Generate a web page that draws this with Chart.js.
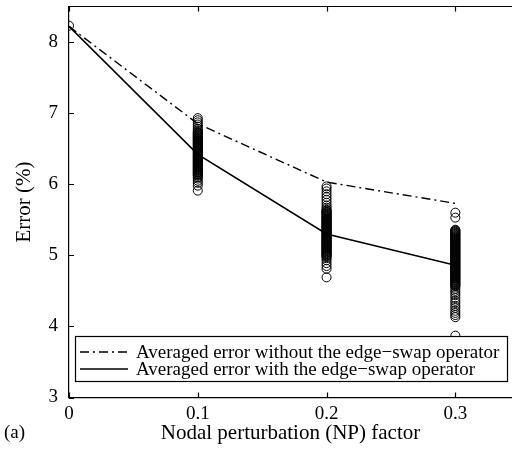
<!DOCTYPE html>
<html>
<head>
<meta charset="utf-8">
<script src="https://cdn.jsdelivr.net/npm/chart.js@4"></script>
<style>
  html, body { margin:0; padding:0; background:#fff; }
  #c { display:block; }
</style>
</head>
<body>
<canvas id="c" width="512" height="459"></canvas>
<script>
'use strict';
// NP factor categories and tick labels
const npFactors = [0, 0.1, 0.2, 0.3];
const xTicks = [0, 0.1, 0.2, 0.3];
const yTicks = [3, 4, 5, 6, 7, 8];

// averaged error curves (%)
const avgWithout = [8.22, 6.85, 6.03, 5.73];
const avgWith    = [8.22, 6.42, 5.30, 4.86];

// individual run errors (%) for each NP factor
const runs0  = [8.23];
const runs01 = [6.93, 6.90, 6.87, 6.84, 6.81, 6.78, 6.76,
                6.74, 6.73, 6.72, 6.71, 6.70, 6.69, 6.68, 6.67, 6.66, 6.65, 6.64, 6.63, 6.62, 6.61, 6.60,
                6.59, 6.58, 6.57, 6.56, 6.55, 6.54, 6.53, 6.52, 6.51, 6.50, 6.49, 6.48, 6.47, 6.46, 6.45,
                6.44, 6.43, 6.42, 6.41, 6.40, 6.39, 6.38, 6.37, 6.36, 6.35, 6.34, 6.33, 6.32, 6.31, 6.30,
                6.29, 6.28, 6.27, 6.26, 6.25, 6.24, 6.23, 6.22, 6.21, 6.20, 6.19, 6.18, 6.17, 6.16, 6.15,
                6.14, 6.13, 6.12, 6.10, 6.08, 6.05, 6.02, 5.98, 5.91];
const runs02 = [5.97, 5.94, 5.90, 5.86, 5.82, 5.78, 5.74, 5.70, 5.67,
                5.64, 5.63, 5.62, 5.61, 5.60, 5.59, 5.58, 5.57, 5.56, 5.55, 5.54, 5.53, 5.52, 5.51, 5.50,
                5.49, 5.48, 5.47, 5.46, 5.45, 5.44, 5.43, 5.42, 5.41, 5.40, 5.39, 5.38, 5.37, 5.36, 5.35,
                5.34, 5.33, 5.32, 5.31, 5.30, 5.29, 5.28, 5.27, 5.26, 5.25, 5.24, 5.23, 5.22, 5.21, 5.20,
                5.19, 5.18, 5.17, 5.16, 5.15, 5.14, 5.13, 5.12, 5.11, 5.10, 5.09, 5.08, 5.07, 5.06, 5.05,
                5.04, 5.03, 5.02, 5.01, 5.00, 4.99, 4.98, 4.96, 4.93, 4.89, 4.85, 4.81, 4.69];
const runs03 = [5.60, 5.53,
                5.36, 5.35, 5.34, 5.33, 5.32, 5.31, 5.30, 5.29, 5.28, 5.27, 5.26, 5.25, 5.24, 5.23, 5.22,
                5.21, 5.20, 5.19, 5.18, 5.17, 5.16, 5.15, 5.14, 5.13, 5.12, 5.11, 5.10, 5.09, 5.08, 5.07,
                5.06, 5.05, 5.04, 5.03, 5.02, 5.01, 5.00, 4.99, 4.98, 4.97, 4.96, 4.95, 4.94, 4.93, 4.92,
                4.91, 4.90, 4.89, 4.88, 4.87, 4.86, 4.85, 4.84, 4.83, 4.82, 4.81, 4.80, 4.79, 4.78, 4.77,
                4.76, 4.75, 4.74, 4.73, 4.72, 4.71, 4.70, 4.69, 4.68, 4.67, 4.66, 4.65, 4.64, 4.63, 4.62,
                4.61, 4.60, 4.59, 4.58, 4.57, 4.56, 4.53, 4.50, 4.47, 4.44, 4.40, 4.36, 4.33, 4.29, 4.26,
                4.22, 4.19, 4.16, 4.13, 3.87];

const FONT = "'Liberation Serif', 'Times New Roman', serif";
const pts = (xs, ys) => ys.map((y, i) => ({ x: xs[i], y }));
const col = (x, ys) => ys.map(y => ({ x, y }));

const samples = [].concat(col(0, runs0), col(0.1, runs01), col(0.2, runs02), col(0.3, runs03));

// inward ticks + top frame
const framePlugin = {
  id: 'frame',
  afterDatasetsDraw(chart) {
    const { ctx, chartArea: ca, scales: { x, y } } = chart;
    ctx.save();
    ctx.strokeStyle = '#000';
    ctx.lineWidth = 1.2;
    ctx.beginPath();
    ctx.moveTo(ca.left, ca.top); ctx.lineTo(ca.right, ca.top);
    xTicks.forEach(v => {
      const px = Math.round(x.getPixelForValue(v)) + 0.5;
      ctx.moveTo(px, ca.bottom); ctx.lineTo(px, ca.bottom - 5);
      ctx.moveTo(px, ca.top); ctx.lineTo(px, ca.top + 5);
    });
    yTicks.forEach(v => {
      const py = Math.round(y.getPixelForValue(v)) + 0.5;
      ctx.moveTo(ca.left, py); ctx.lineTo(ca.left + 5, py);
    });
    ctx.stroke();
    ctx.restore();
  }
};

// boxed legend in the lower part of the plot
const legendPlugin = {
  id: 'boxLegend',
  afterDraw(chart) {
    const { ctx, chartArea: ca } = chart;
    const items = chart.data.datasets.filter(d => d.legendText);
    const left = ca.left + 6, right = ca.right - 5, bottom = ca.bottom - 16.5, top = bottom - 45;
    ctx.save();
    ctx.fillStyle = '#fff';
    ctx.fillRect(left, top, right - left, bottom - top);
    ctx.strokeStyle = '#000'; ctx.lineWidth = 1.2;
    ctx.strokeRect(left + 0.5, top + 0.5, right - left, bottom - top);
    items.forEach((d, i) => {
      const yy = top + 16 + i * 17;
      ctx.beginPath();
      ctx.setLineDash(d.borderDash || []);
      ctx.lineWidth = d.borderWidth;
      ctx.moveTo(left + 5, yy); ctx.lineTo(left + 53, yy);
      ctx.stroke();
      ctx.setLineDash([]);
      ctx.fillStyle = '#000';
      ctx.font = '19px ' + FONT;
      ctx.textBaseline = 'middle';
      ctx.fillText(d.legendText, left + 61, yy + 1);
    });
    // panel label
    ctx.font = '19px ' + FONT;
    ctx.textBaseline = 'middle';
    ctx.fillText('(a)', 4, 433);
    ctx.restore();
  }
};

new Chart(document.getElementById('c'), {
  type: 'line',
  data: {
    datasets: [
      { type: 'scatter', data: samples, pointStyle: 'circle', pointRadius: 4.5, borderWidth: 1,
        borderColor: '#000', backgroundColor: 'rgba(0,0,0,0)', showLine: false },
      { data: pts(npFactors, avgWithout), borderColor: '#000', borderWidth: 1.4, borderDash: [9, 4, 2, 4],
        pointRadius: 0, fill: false, tension: 0,
        legendText: 'Averaged error without the edge\u2212swap operator' },
      { data: pts(npFactors, avgWith), borderColor: '#000', borderWidth: 1.6,
        pointRadius: 0, fill: false, tension: 0,
        legendText: 'Averaged error with the edge\u2212swap operator' },
    ]
  },
  options: {
    responsive: false, animation: false,
    layout: { autoPadding: false, padding: { top: 6.5, left: 0, right: 0, bottom: 0 } },
    plugins: { legend: { display: false }, tooltip: { enabled: false } },
    scales: {
      x: {
        type: 'linear', min: 0, max: 0.344,
        afterBuildTicks: s => { s.ticks = xTicks.map(v => ({ value: v })); },
        afterFit: s => { s.height = 61.5; s.paddingLeft = 0; s.paddingRight = 0; },
        grid: { display: false, drawTicks: false },
        border: { display: true, color: '#000', width: 1.2 },
        ticks: { color: '#000', font: { family: FONT, size: 19 }, padding: 5, maxRotation: 0,
                 callback: v => String(v) },
        title: { display: true, text: 'Nodal perturbation (NP) factor', color: '#000',
                 font: { family: FONT, size: 21 }, padding: { top: 0, bottom: 13 } }
      },
      y: {
        min: 3, max: 8.5,
        afterBuildTicks: s => { s.ticks = yTicks.map(v => ({ value: v })); },
        afterFit: s => { s.width = 69; s.paddingTop = 0; s.paddingBottom = 0; },
        grid: { display: false, drawTicks: false },
        border: { display: true, color: '#000', width: 1.2 },
        ticks: { color: '#000', font: { family: FONT, size: 19 }, padding: 11 },
        title: { display: true, text: 'Error (%)', color: '#000',
                 font: { family: FONT, size: 21 }, padding: { top: 12, bottom: 0 } }
      }
    }
  },
  plugins: [framePlugin, legendPlugin]
});
</script>
</body>
</html>
